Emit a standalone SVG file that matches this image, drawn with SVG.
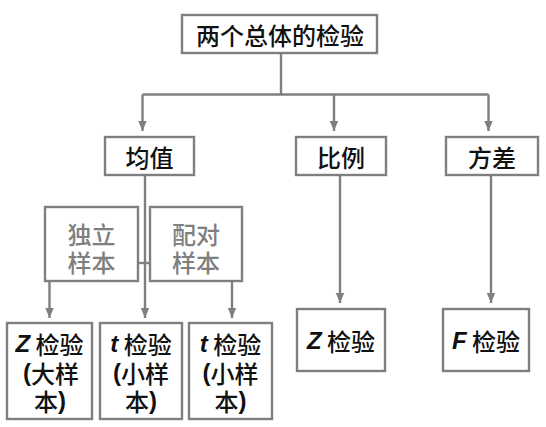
<svg xmlns="http://www.w3.org/2000/svg" width="546" height="427" viewBox="0 0 546 427">
<style>
  .box{fill:#fff;stroke:#7f7f7f;stroke-width:2.4}
  .t{font-family:"Noto Sans CJK SC","Liberation Sans",sans-serif;font-size:24px;font-weight:500;fill:#111;text-anchor:middle;dominant-baseline:central}
  .g{fill:#7f7f7f}
  .lat{font-family:"Liberation Sans","Noto Sans CJK SC",sans-serif;font-weight:bold}
  .it{font-style:italic}
  .con{fill:none;stroke:#7f7f7f;stroke-width:2.4}
</style>
<defs>
  <marker id="arr" markerUnits="userSpaceOnUse" markerWidth="10" markerHeight="10" viewBox="0 0 10 10" refX="10" refY="5" orient="auto">
    <path d="M0,0.8 L10,5 L0,9.2 Z" fill="#7f7f7f"/>
  </marker>
</defs>
<rect width="546" height="427" fill="#fff"/>
<g id="connectors">
  <path class="con" d="M281,53 V94.5"/>
  <path class="con" d="M142.5,94.5 H488.5"/>
  <path class="con" d="M142.5,94.5 V131" marker-end="url(#arr)"/>
  <path class="con" d="M334,94.5 V131" marker-end="url(#arr)"/>
  <path class="con" d="M488.5,94.5 V131" marker-end="url(#arr)"/>
  <path class="con" d="M145,175 V318" marker-end="url(#arr)"/>
  <path class="con" d="M340,176 V303" marker-end="url(#arr)"/>
  <path class="con" d="M491,176 V303" marker-end="url(#arr)"/>
  <path class="con" d="M49.5,281 V318" marker-end="url(#arr)"/>
  <path class="con" d="M232,281 V318" marker-end="url(#arr)"/>
  <path class="con" d="M138,263 H150"/>
</g>
<g id="root">
  <rect class="box" x="182" y="15" width="195" height="38"/>
  <text class="t" x="280" y="34">两个总体的检验</text>
</g>
<g id="mean">
  <rect class="box" x="105" y="137" width="89" height="38"/>
  <text class="t" x="149.5" y="156">均值</text>
</g>
<g id="prop">
  <rect class="box" x="296" y="137" width="90" height="38"/>
  <text class="t" x="341" y="156">比例</text>
</g>
<g id="var">
  <rect class="box" x="446" y="137" width="92" height="38"/>
  <text class="t" x="492" y="156">方差</text>
</g>
<g id="indep">
  <rect class="box" x="45" y="207" width="93" height="74"/>
  <text class="t g"><tspan x="91.5" y="233">独立</tspan><tspan x="91.5" y="261">样本</tspan></text>
</g>
<g id="paired">
  <rect class="box" x="150" y="207" width="92" height="74"/>
  <text class="t g"><tspan x="196" y="233">配对</tspan><tspan x="196" y="261">样本</tspan></text>
</g>
<g id="z-large">
  <rect class="box" x="7" y="323" width="85" height="96"/>
  <text class="t"><tspan x="49.5" y="343"><tspan class="lat it">Z</tspan> 检验</tspan><tspan x="51" y="372"><tspan class="lat">(</tspan>大样</tspan><tspan x="50" y="400">本<tspan class="lat">)</tspan></tspan></text>
</g>
<g id="t-indep">
  <rect class="box" x="100" y="323" width="82" height="96"/>
  <text class="t"><tspan x="141" y="343"><tspan class="lat it">t</tspan> 检验</tspan><tspan x="141" y="372"><tspan class="lat">(</tspan>小样</tspan><tspan x="141" y="400">本<tspan class="lat">)</tspan></tspan></text>
</g>
<g id="t-paired">
  <rect class="box" x="189" y="323" width="83" height="96"/>
  <text class="t"><tspan x="230.5" y="343"><tspan class="lat it">t</tspan> 检验</tspan><tspan x="230.5" y="372"><tspan class="lat">(</tspan>小样</tspan><tspan x="230.5" y="400">本<tspan class="lat">)</tspan></tspan></text>
</g>
<g id="z-prop">
  <rect class="box" x="297" y="309" width="88" height="62"/>
  <text class="t" x="341" y="340"><tspan class="lat it">Z</tspan> 检验</text>
</g>
<g id="f-test">
  <rect class="box" x="443" y="309" width="86" height="62"/>
  <text class="t" x="486" y="340"><tspan class="lat it">F</tspan> 检验</text>
</g>
</svg>
